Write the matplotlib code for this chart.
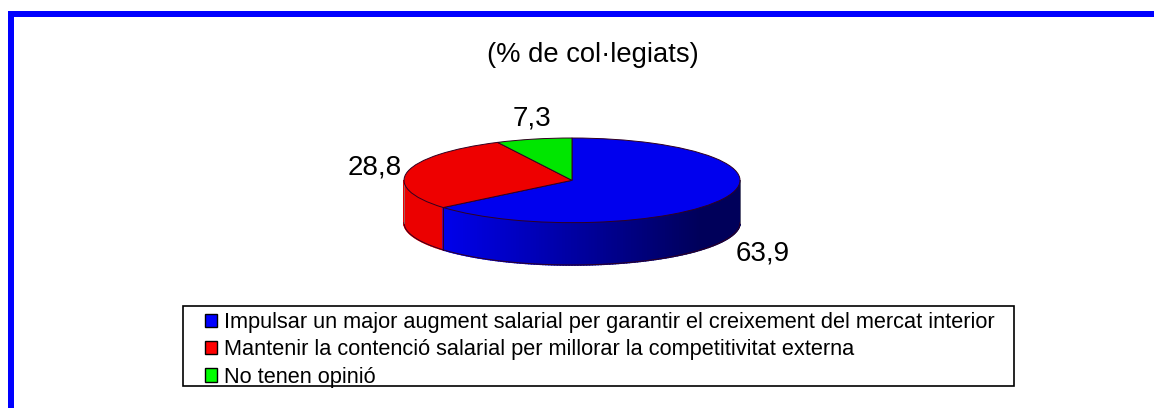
import numpy as np
import matplotlib
matplotlib.use('Agg')
import matplotlib.pyplot as plt
from matplotlib.patches import Rectangle

plt.rcParams['font.family'] = ['Liberation Sans', 'DejaVu Sans']

W, H = 1154, 408

title = '(% de col·legiats)'
categories = ['Impulsar un major augment salarial per garantir el creixement del mercat interior',
              'Mantenir la contenció salarial per millorar la competitivitat externa',
              'No tenen opinió']
values = [63.9, 28.8, 7.3]
value_labels = ['63,9', '28,8', '7,3']

top_colors = ['#0000ee', '#ee0000', '#00e600']
legend_colors = ['#0000ff', '#ff0000', '#00ff00']


def axes_box(x0, y0, x1, y1):
    return [x0 / W, 1 - y1 / H, (x1 - x0) / W, (y1 - y0) / H]


fig = plt.figure(figsize=(W / 100, H / 100), dpi=100)

# blue border, only top and left show
fig.add_artist(Rectangle((8 / W, -0.1), 6 / W, 1 - 11 / H + 0.1, transform=fig.transFigure, color='#0000ff', lw=0))
fig.add_artist(Rectangle((8 / W, 1 - 17 / H), 1 - 8 / W + 0.1, 6 / H, transform=fig.transFigure, color='#0000ff', lw=0))

# pie axes: one y unit is the minor radius, depth is one more unit
ax = fig.add_axes(axes_box(404, 138, 740, 265))
wedges, _ = ax.pie(values, colors=top_colors, startangle=90, counterclock=False,
                   wedgeprops={'edgecolor': '#300020', 'linewidth': 0.7})
ax.set_aspect('auto')
ax.set_xlim(-1, 1)
ax.set_ylim(-2, 1)
for w in wedges:
    w.set_zorder(5)
    w.set_clip_on(False)

# side wall, thin strips along the front arc
depth = 1.0
angle_split = 90 - values[0] / sum(values) * 360
thetas = np.radians(np.linspace(180, 360, 181))
for a, b in zip(thetas[:-1], thetas[1:]):
    xs = [np.cos(a), np.cos(b), np.cos(b), np.cos(a)]
    ys = [np.sin(a), np.sin(b), np.sin(b) - depth, np.sin(a) - depth]
    mid = np.degrees((a + b) / 2) - 360
    if mid > angle_split:
        frac = (np.cos((a + b) / 2) + 0.76) / 1.76
        col = (0, 0, (235 - 145 * min(frac * 1.15, 1)) / 255)
    else:
        col = (235 / 255, 0, 0)
    ax.fill(xs, ys, color=col, lw=1.2, clip_on=False, zorder=2)

t = np.radians(np.linspace(180, 360, 181))
ax.plot(np.cos(t), np.sin(t) - depth, color='#300020', lw=0.7, clip_on=False, zorder=3)
ax.plot([-1, -1], [0, -depth], color='#888888', lw=0.5, clip_on=False, zorder=3)
ax.plot([1, 1], [0, -depth], color='#888888', lw=0.5, clip_on=False, zorder=3)
split = np.radians(angle_split)
ax.plot([np.cos(split)] * 2, [np.sin(split), np.sin(split) - depth], color='#300020', lw=0.7, clip_on=False, zorder=3)

fig.text(593 / W, 1 - 55 / H, title, ha='center', va='center', fontsize=19.7)
fig.text(763 / W, 1 - 254 / H, value_labels[0], ha='center', va='center', fontsize=20)
fig.text(375 / W, 1 - 168 / H, value_labels[1], ha='center', va='center', fontsize=20)
fig.text(532 / W, 1 - 118 / H, value_labels[2], ha='center', va='center', fontsize=20)

# legend box drawn apart so the left inset can differ from the top inset
fig.add_artist(Rectangle((183 / W, 1 - 386 / H), 831 / W, 80 / H, transform=fig.transFigure,
                         facecolor='white', edgecolor='black', lw=1.2, zorder=3))
handles = [Rectangle((0, 0), 1, 1, facecolor=c, edgecolor='black', lw=1.0) for c in legend_colors]
leg = fig.legend(handles, categories, loc='upper left',
                 bbox_to_anchor=(205 / W, 1 - 312 / H), frameon=False, fontsize=15.7,
                 handlelength=0.55, handleheight=0.55, handletextpad=0.3, labelspacing=0.29,
                 borderpad=0, borderaxespad=0)
leg.set_zorder(4)

fig.savefig('out.png', dpi=100)
